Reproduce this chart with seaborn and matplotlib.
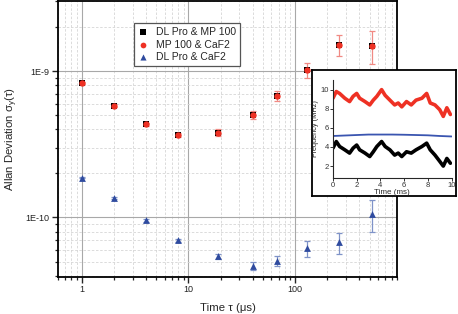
import matplotlib
matplotlib.use("Agg")
import matplotlib.pyplot as plt
import seaborn as sns
import numpy as np
import pandas as pd
from matplotlib.ticker import LogLocator, FixedLocator, NullFormatter, FixedFormatter

# ---------------- data ----------------
tau = [1, 2, 4, 8, 19, 40, 68, 130, 260, 520]
adev_dl_mp = [8.3e-10, 5.8e-10, 4.33e-10, 3.64e-10, 3.8e-10, 5.0e-10, 6.76e-10, 1.02e-9, 1.51e-9, 1.49e-9]
adev_mp_caf = [8.3e-10, 5.8e-10, 4.33e-10, 3.64e-10, 3.8e-10, 5.0e-10, 6.76e-10, 1.02e-9, 1.51e-9, 1.49e-9]
err_mp_caf = [1.2e-11, 1.2e-11, 1.2e-11, 1.2e-11, 2.0e-11, 3.2e-11, 5.4e-11, 1.2e-10, 2.5e-10, 3.8e-10]
adev_dl_caf = [1.87e-10, 1.36e-10, 9.55e-11, 6.97e-11, 5.42e-11, 4.65e-11, 5.04e-11, 6.15e-11, 6.76e-11, 1.06e-10]
err_dl_caf = [2e-12, 2e-12, 2e-12, 2e-12, 2.5e-12, 3e-12, 4e-12, 7.5e-12, 1.1e-11, 2.6e-11]

labels = ["DL Pro & MP 100", "MP 100 & CaF2", "DL Pro & CaF2"]

inset_t = [0.0, 0.28, 0.56, 1.0, 1.4, 1.7, 2.0, 2.25, 2.7, 3.1, 3.4, 3.7, 4.1, 4.4,
           4.8, 5.2, 5.5, 5.8, 6.2, 6.6, 7.0, 7.5, 7.9, 8.2, 8.6, 9.0, 9.3, 9.6, 9.9]
inset_red = [9.1, 9.8, 9.6, 9.1, 8.75, 9.3, 9.6, 9.1, 8.75, 8.4, 8.9, 9.3, 10.0, 9.4,
             8.9, 8.4, 8.6, 8.2, 8.75, 8.4, 8.9, 9.1, 9.6, 8.6, 8.4, 7.9, 7.2, 8.1, 7.4]
inset_black = [3.88, 4.57, 4.05, 3.7, 3.36, 3.88, 4.2, 3.7, 3.36, 3.0, 3.5, 4.05, 4.57, 4.05,
               3.7, 3.15, 3.36, 3.0, 3.5, 3.36, 3.7, 4.05, 4.4, 3.7, 3.15, 2.5, 2.0, 2.8, 2.3]
inset_blue_t = [0, 1, 2, 3, 4, 5, 6, 7, 8, 9, 10]
inset_blue = [5.15, 5.2, 5.25, 5.3, 5.3, 5.3, 5.28, 5.25, 5.22, 5.15, 5.1]

# ---------------- style ----------------
sns.set_style("ticks")
plt.rcParams['font.family'] = ['Liberation Sans', 'DejaVu Sans']
plt.rcParams['mathtext.fontset'] = 'custom'
plt.rcParams['mathtext.rm'] = 'Liberation Sans'
plt.rcParams['mathtext.it'] = 'Liberation Sans'

RED = "#ee3124"
BLUE = "#2f4b9f"

fig = plt.figure(figsize=(4.58, 3.14), dpi=100)
ax = fig.add_axes([0.1266, 0.1178, 0.7402, 0.8802])

df_a = pd.DataFrame({"tau": tau, "adev": adev_dl_mp})
df_b = pd.DataFrame({"tau": tau, "adev": adev_mp_caf})
df_c = pd.DataFrame({"tau": tau, "adev": adev_dl_caf})

ax.errorbar(tau, adev_mp_caf, yerr=err_mp_caf, fmt="none", ecolor="#f08a84",
            elinewidth=0.9, capsize=2.5, capthick=0.9, zorder=2)
ax.errorbar(tau, adev_dl_caf, yerr=err_dl_caf, fmt="none", ecolor="#7f93c8",
            elinewidth=0.9, capsize=2.5, capthick=0.9, zorder=2)

sns.scatterplot(data=df_a, x="tau", y="adev", ax=ax, marker="s", color="black",
                s=20, linewidth=0, label=labels[0], zorder=3)
sns.scatterplot(data=df_b, x="tau", y="adev", ax=ax, marker="o", color=RED,
                s=21, linewidth=0, label=labels[1], zorder=4)
sns.scatterplot(data=df_c, x="tau", y="adev", ax=ax, marker="^", color=BLUE,
                s=24, linewidth=0, label=labels[2], zorder=4)

ax.set_xscale("log")
ax.set_yscale("log")
ax.set_xlim(0.6, 900)
ax.set_ylim(3.92e-11, 3.03e-9)

ax.xaxis.set_major_locator(FixedLocator([1, 10, 100]))
ax.xaxis.set_major_formatter(FixedFormatter(["1", "10", "100"]))
ax.xaxis.set_minor_locator(LogLocator(base=10, subs=np.arange(2, 10), numticks=20))
ax.xaxis.set_minor_formatter(NullFormatter())
ax.yaxis.set_major_locator(FixedLocator([1e-10, 1e-9]))
ax.yaxis.set_major_formatter(FixedFormatter(["1E-10", "1E-9"]))
ax.yaxis.set_minor_locator(LogLocator(base=10, subs=np.arange(2, 10), numticks=20))
ax.yaxis.set_minor_formatter(NullFormatter())

ax.grid(True, which="major", color="#a8a8a8", linewidth=0.8, linestyle="-")
ax.grid(True, which="minor", color="#d6d6d6", linewidth=0.6, linestyle=(0, (3, 2)))
ax.set_axisbelow(True)

ax.tick_params(which="major", direction="out", length=4, width=1.0, labelsize=6.5, pad=2,
               labelcolor="#222222")
ax.tick_params(which="minor", direction="out", length=2.5, width=0.9)
for s in ax.spines.values():
    s.set_linewidth(1.3)
    s.set_color("black")

ax.set_xlabel("Time τ (μs)", fontsize=8.2, labelpad=6)
ax.set_ylabel(r"Allan Deviation σ$_y$(τ)", fontsize=8.2, labelpad=4)

leg = ax.legend(loc="upper left", bbox_to_anchor=(0.224, 0.918), borderaxespad=0,
                fontsize=7.5, frameon=True, fancybox=False, framealpha=1,
                edgecolor="#555555", handlelength=1.0, handletextpad=0.8,
                labelspacing=0.25, borderpad=0.35, markerscale=0.9)
leg.get_frame().set_linewidth(0.9)

# ---------------- inset ----------------
frame = fig.add_axes([0.681, 0.376, 0.3146, 0.401], zorder=5)
frame.set_xticks([])
frame.set_yticks([])
frame.set_facecolor("white")
for s in frame.spines.values():
    s.set_linewidth(1.3)
    s.set_color("black")

ins = fig.add_axes([0.727, 0.433, 0.259, 0.312], zorder=6)
ins.patch.set_alpha(0)
df_red = pd.DataFrame({"t": inset_t, "f": inset_red})
df_blk = pd.DataFrame({"t": inset_t, "f": inset_black})
df_blu = pd.DataFrame({"t": inset_blue_t, "f": inset_blue})
sns.lineplot(data=df_red, x="t", y="f", ax=ins, color=RED, linewidth=2.6)
sns.lineplot(data=df_blk, x="t", y="f", ax=ins, color="black", linewidth=2.6)
sns.lineplot(data=df_blu, x="t", y="f", ax=ins, color="#3a55b0", linewidth=1.3)
ins.set_xlim(0, 10)
ins.set_ylim(0.75, 11)
ins.set_xticks([0, 2, 4, 6, 8, 10])
ins.set_yticks([2, 4, 6, 8, 10])
ins.tick_params(direction="out", length=2, width=0.7, labelsize=5.5, pad=1, colors="#333333")
ins.set_xlabel("Time (ms)", fontsize=5.8, labelpad=0)
ins.set_ylabel("Frequency (MHz)", fontsize=5.3, labelpad=1)
ins.spines["top"].set_visible(False)
ins.spines["right"].set_visible(False)
for s in ["left", "bottom"]:
    ins.spines[s].set_linewidth(0.8)

fig.savefig("out.png", dpi=100)
